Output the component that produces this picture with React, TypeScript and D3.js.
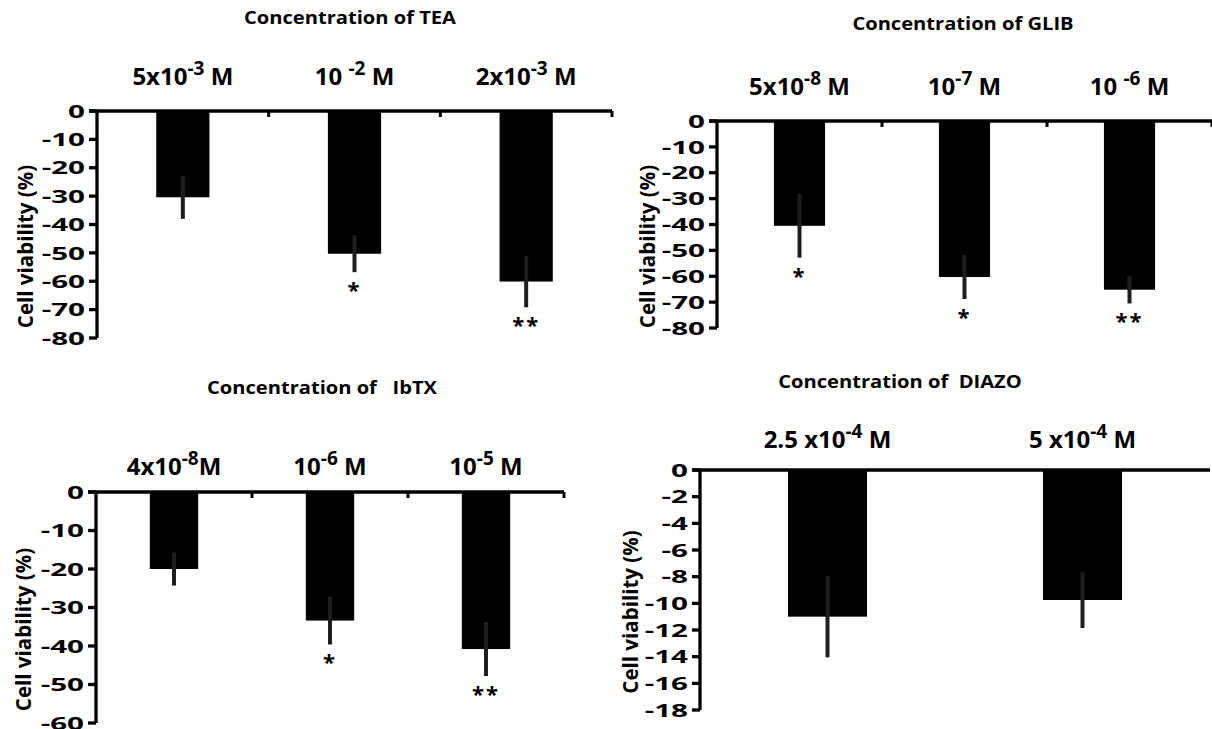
import React from 'react';
import * as d3 from 'd3';

// dose labels: [base, exponent, unit]
const teaDoses = [["5x10", "-3", " M"], ["10 ", "-2", " M"], ["2x10", "-3", " M"]];
const teaMean = [-30.4, -50.3, -60.1];
const teaErr = [7.6, 6.5, 9.1];
const teaSig = ["", "*", "**"];
const teaTicks = [0, -10, -20, -30, -40, -50, -60, -70, -80];

const glibDoses = [["5x10", "-8", " M"], ["10", "-7", " M"], ["10 ", "-6", " M"]];
const glibMean = [-40.5, -60.3, -65.2];
const glibErr = [12.3, 8.5, 5.3];
const glibSig = ["*", "*", "**"];
const glibTicks = [0, -10, -20, -30, -40, -50, -60, -70, -80];

const ibtxDoses = [["4x10", "-8", "M"], ["10", "-6", " M"], ["10", "-5", " M"]];
const ibtxMean = [-20.0, -33.4, -40.8];
const ibtxErr = [4.3, 6.2, 7.0];
const ibtxSig = ["", "*", "**"];
const ibtxTicks = [0, -10, -20, -30, -40, -50, -60];

const diazoDoses = [["2.5 x10", "-4", " M"], ["5 x10", "-4", " M"]];
const diazoMean = [-11.0, -9.75];
const diazoErr = [3.05, 2.1];
const diazoSig = ["", ""];
const diazoTicks = [0, -2, -4, -6, -8, -10, -12, -14, -16, -18];

const FONT = "'Open Sans', 'DejaVu Sans', sans-serif";
const BAR_FRAC = 0.31;

function Panel({ box, title, titleX, titleY, catY, doses, mean, err, sig, ticks, catTicks }) {
  const x = d3.scaleBand().domain(d3.range(mean.length)).range([box.left, box.right]).padding(0);
  const y = d3.scaleLinear().domain([0, d3.min(ticks)]).range([box.top, box.bottom]);
  const bw = x.bandwidth() * BAR_FRAC;
  const cx = i => x(i) + x.bandwidth() / 2;
  const y0 = y(0);

  return (
    <g>
      <text transform={`translate(${titleX},${titleY}) scale(1.15,1)`} textAnchor="middle"
        fontSize={17.5} fontWeight={700} style={{ whiteSpace: 'pre' }}>{title}</text>

      {doses.map((d, i) => (
        <text key={'c' + i} x={cx(i)} y={catY} textAnchor="middle" fontSize={24} fontWeight={700}
          style={{ whiteSpace: 'pre' }}>
          <tspan>{d[0]}</tspan>
          <tspan fontSize={19} dy={-10}>{d[1]}</tspan>
          <tspan dy={10}>{d[2]}</tspan>
        </text>
      ))}

      {/* bars */}
      {mean.map((v, i) => (
        <rect key={'b' + i} x={cx(i) - bw / 2} y={y0} width={bw} height={y(v) - y0} fill="#000" />
      ))}

      {/* error bars */}
      {mean.map((v, i) => (
        <line key={'e' + i} x1={cx(i)} x2={cx(i)} y1={y(v + err[i])} y2={y(v - err[i])}
          stroke="#1e1e1e" strokeWidth={4} />
      ))}

      {/* significance */}
      {sig.map((s, i) => s ? (
        <text key={'s' + i} x={cx(i)} y={y(mean[i] - err[i]) + 26} textAnchor="middle"
          fontSize={22} fontWeight={700} letterSpacing={2}>{s}</text>
      ) : null)}

      {/* y axis */}
      <line x1={box.left} x2={box.left} y1={y0} y2={y(d3.min(ticks))} stroke="#000" strokeWidth={3.3} />
      {ticks.map(t => (
        <g key={'t' + t}>
          <line x1={box.left - 8} x2={box.left} y1={y(t)} y2={y(t)} stroke="#000" strokeWidth={3.3} />
          <text transform={`translate(${box.left - 12},${y(t)}) scale(1.6,1)`} dy="0.36em"
            textAnchor="end" fontSize={18.5} fontWeight={700}>{t}</text>
        </g>
      ))}

      {/* x axis at zero */}
      <line x1={box.left - 8} x2={box.right} y1={y0} y2={y0} stroke="#000" strokeWidth={3.3} />
      {catTicks && mean.map((v, i) => (
        <line key={'k' + i} x1={x(i) + x.bandwidth()} x2={x(i) + x.bandwidth()} y1={y0} y2={y0 + 6}
          stroke="#000" strokeWidth={3} />
      ))}

      <text transform={`translate(${box.labelX},${(box.top + box.bottom) / 2 + 22}) rotate(-90)`}
        textAnchor="middle" fontSize={20.5} fontWeight={700}>Cell viability (%)</text>
    </g>
  );
}

export default function App() {
  return (
    <svg width={1212} height={729} style={{ position: 'absolute', left: 0, top: 0, background: '#fff' }}
      fontFamily={FONT} fill="#000">
      <Panel box={{ left: 97, right: 612, top: 111, bottom: 338, labelX: 33 }}
        title="Concentration of TEA" titleX={350} titleY={24} catY={85}
        doses={teaDoses} mean={teaMean} err={teaErr} sig={teaSig} ticks={teaTicks} catTicks />
      <Panel box={{ left: 717, right: 1212, top: 121, bottom: 328, labelX: 655 }}
        title="Concentration of GLIB" titleX={963} titleY={30} catY={95}
        doses={glibDoses} mean={glibMean} err={glibErr} sig={glibSig} ticks={glibTicks} catTicks />
      <Panel box={{ left: 96, right: 564, top: 492, bottom: 723, labelX: 31 }}
        title="Concentration of   IbTX" titleX={322} titleY={394} catY={475}
        doses={ibtxDoses} mean={ibtxMean} err={ibtxErr} sig={ibtxSig} ticks={ibtxTicks} catTicks />
      <Panel box={{ left: 700, right: 1210, top: 470, bottom: 710, labelX: 638 }}
        title="Concentration of  DIAZO" titleX={900} titleY={388} catY={448}
        doses={diazoDoses} mean={diazoMean} err={diazoErr} sig={diazoSig} ticks={diazoTicks} catTicks={false} />
    </svg>
  );
}
